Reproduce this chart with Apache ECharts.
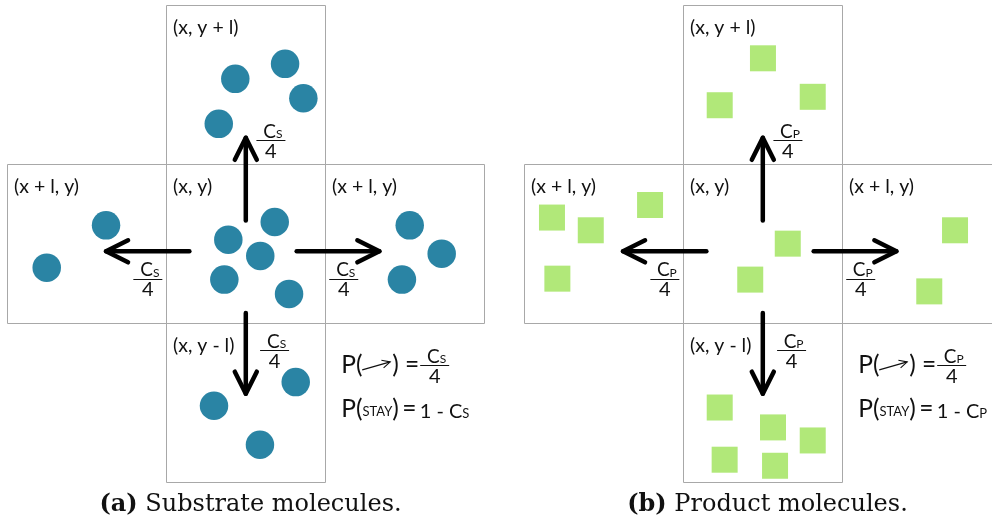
<!DOCTYPE html>
<html><head><meta charset="utf-8">
<script src="https://cdn.jsdelivr.net/npm/echarts@6/dist/echarts.min.js"></script>
<style>html,body{margin:0;padding:0;background:#fff}#main{width:992px;height:522px}</style>
</head><body><div id="main"></div>
<script>
// ---- data (lattice units: one cell = l, centre cell (x, y) at 0,0; +row = y + l) ----
const cellCols = [0, -1, 0, 1, 0];
const cellRows = [1, 0, 0, 0, -1];
const cellLabels = ['(x, y + l)', '(x + l, y)', '(x, y)', '(x + l, y)', '(x, y - l)'];

const substrateX = [-0.066, 0.247, 0.362, -0.170, -0.879, -1.252, -0.110, 0.182, 0.091, -0.135, 0.272, 1.031, 1.232, 0.982, -0.200, 0.314, 0.089];
const substrateY = [1.036, 1.130, 0.914, 0.753, 0.115, -0.151, 0.025, 0.136, -0.077, -0.226, -0.316, 0.115, -0.063, -0.226, -1.019, -0.870, -1.264];
const productX = [0.001, -0.271, 0.314, -1.326, -1.082, -0.709, -1.292, 0.157, -0.079, 1.209, 1.047, -0.271, 0.064, 0.314, -0.240, 0.077];
const productY = [1.165, 0.870, 0.923, 0.164, 0.084, 0.243, -0.220, 0.000, -0.226, 0.084, -0.300, -1.030, -1.155, -1.237, -1.358, -1.396];

const arrowTailX = [0, -0.355, 0.320, 0];
const arrowTailY = [0.145, -0.048, -0.048, -0.436];
const arrowTipX = [0, -0.879, 0.840, 0];
const arrowTipY = [0.665, -0.048, -0.048, -0.943];
const fracX = [0.158, -0.616, 0.616, 0.181];
const fracY = [0.650, -0.220, -0.220, -0.671];

const speciesLetter = ['S', 'P'];
const captionTags = ['(a)', '(b)'];
const captionTexts = ['Substrate molecules.', 'Product molecules.'];
const formulaX = [0.60, 0.60];
const formulaY = [-0.765, -1.065];

// visible lattice window of each panel (the right panel is cut by the page edge)
const panelXMin = [-1.5, -1.5];
const panelXMax = [1.5, 1.4415];

// ---- styles ----
const SANS = 'Lato';
const INK = '#111';
const TEAL = '#2a84a4';
const GREEN = '#b1e879';

const chart = echarts.init(document.getElementById('main'), null, {renderer: 'canvas'});

function cellRenderer(params, api) {
  const c = api.value(0), r = api.value(1);
  const p0 = api.coord([c - 0.5, r + 0.5]);
  const p1 = api.coord([c + 0.5, r - 0.5]);
  const x0 = Math.round(p0[0]) + 0.5, y0 = Math.round(p0[1]) + 0.5;
  const x1 = Math.round(p1[0]) + 0.5, y1 = Math.round(p1[1]) + 0.5;
  return {type: 'group', children: [
    {type: 'rect', shape: {x: x0, y: y0, width: x1 - x0, height: y1 - y0},
     style: {fill: 'none', stroke: '#a8a8a8', lineWidth: 1}},
    {type: 'text', x: x0 + 6.5, y: y0 + 22,
     style: {text: cellLabels[params.dataIndex], font: '19.5px ' + SANS, fill: INK, align: 'left', verticalAlign: 'middle'}}
  ]};
}

function arrowRenderer(params, api) {
  const t = api.coord([api.value(0), api.value(1)]);
  const h = api.coord([api.value(2), api.value(3)]);
  const dx = h[0] - t[0], dy = h[1] - t[1];
  const len = Math.hypot(dx, dy), ux = dx / len, uy = dy / len;
  const back = 22, side = 11;
  const w1 = [h[0] - ux * back - uy * side, h[1] - uy * back + ux * side];
  const w2 = [h[0] - ux * back + uy * side, h[1] - uy * back - ux * side];
  const st = {stroke: '#000', lineWidth: 4.5, lineCap: 'round', lineJoin: 'round', fill: 'none'};
  return {type: 'group', children: [
    {type: 'line', shape: {x1: t[0], y1: t[1], x2: h[0], y2: h[1]}, style: st},
    {type: 'polyline', shape: {points: [w1, h, w2]}, style: st}
  ]};
}

function fractionElems(cx, cy, letter) {
  return [
    {type: 'text', x: cx + 2, y: cy + 1,
     style: {text: '{c|C}{s|' + letter + '}', align: 'center', verticalAlign: 'bottom', fill: INK,
       rich: {c: {fontSize: 19, fontFamily: SANS, lineHeight: 19, verticalAlign: 'bottom', fill: INK},
              s: {fontSize: 12, fontFamily: SANS, lineHeight: 12, verticalAlign: 'bottom', fill: INK, padding: [0, 0, 1, 0]}}}},
    {type: 'line', shape: {x1: cx - 14.5, y1: Math.round(cy) + 0.5, x2: cx + 14.5, y2: Math.round(cy) + 0.5},
     style: {stroke: INK, lineWidth: 1}},
    {type: 'text', x: cx, y: cy + 1,
     style: {text: '4', font: '20px ' + SANS, fill: INK, align: 'center', verticalAlign: 'top'}}
  ];
}

function makeFractionRenderer(letter) {
  return function (params, api) {
    const p = api.coord([api.value(0), api.value(1)]);
    return {type: 'group', children: fractionElems(p[0], p[1], letter)};
  };
}

function makeFormulaRenderer(letter) {
  return function (params, api) {
    const p = api.coord([api.value(0), api.value(1)]);
    const x0 = p[0], yc = p[1];
    if (params.dataIndex === 0) {
      const t = [x0 + 21, yc + 4.5], h = [x0 + 49, yc - 3.5];
      const dx = h[0] - t[0], dy = h[1] - t[1];
      const len = Math.hypot(dx, dy), ux = dx / len, uy = dy / len;
      const w1 = [h[0] - ux * 8 - uy * 4, h[1] - uy * 8 + ux * 4];
      const w2 = [h[0] - ux * 8 + uy * 4, h[1] - uy * 8 - ux * 4];
      const st = {stroke: INK, lineWidth: 1.1, fill: 'none'};
      return {type: 'group', children: [
        {type: 'text', x: x0, y: yc, style: {text: 'P(', font: '24.5px ' + SANS, fill: INK, align: 'left', verticalAlign: 'middle'}},
        {type: 'line', shape: {x1: t[0], y1: t[1], x2: h[0], y2: h[1]}, style: st},
        {type: 'polyline', shape: {points: [w1, h, w2]}, style: st},
        {type: 'text', x: x0 + 51, y: yc, style: {text: ') =', font: '24.5px ' + SANS, fill: INK, align: 'left', verticalAlign: 'middle'}}
      ].concat(fractionElems(x0 + 93.5, yc, letter))};
    }
    return {type: 'group', children: [
      {type: 'text', x: x0, y: yc + 9,
       style: {text: '{p|P(}{k|STAY}{p|)} {p|=} {n|1 - C}{s|' + letter + '}', align: 'left', verticalAlign: 'bottom', fill: INK,
         rich: {p: {fontSize: 24.5, fontFamily: SANS, lineHeight: 24, verticalAlign: 'bottom', fill: INK},
                k: {fontSize: 13, fontFamily: SANS, lineHeight: 13, verticalAlign: 'bottom', fill: INK, padding: [0, 0, 4, 0]},
                n: {fontSize: 20, fontFamily: SANS, lineHeight: 20, verticalAlign: 'bottom', fill: INK, padding: [0, 0, 1, 0]},
                s: {fontSize: 13, fontFamily: SANS, lineHeight: 13, verticalAlign: 'bottom', fill: INK, padding: [0, 0, 2, 0]}}}}
    ]};
  };
}

function makeCaptionRenderer(k) {
  return function (params, api) {
    const p = api.coord([api.value(0), api.value(1)]);
    const q = api.coord([0, 0]);
    return {type: 'text', x: q[0] + 4.7, y: p[1] + 22,
      style: {text: '{b|' + captionTags[k] + '} ' + captionTexts[k], align: 'center', verticalAlign: 'middle', fill: INK,
        font: '24px "DejaVu Serif"',
        rich: {b: {fontSize: 24, fontFamily: 'DejaVu Serif', fontWeight: 'bold', fill: INK}}}};
  };
}

const grids = [
  {left: 7.3, top: 5, width: 477, height: 477.3},
  {left: 524.3, top: 5, width: 467.7, height: 477.3}
];
const xAxes = [0, 1].map(k => ({type: 'value', gridIndex: k, min: panelXMin[k], max: panelXMax[k], show: false}));
const yAxes = [0, 1].map(k => ({type: 'value', gridIndex: k, min: -1.5, max: 1.5, show: false}));

const series = [];
[0, 1].forEach(k => {
  const mx = k === 0 ? substrateX : productX;
  const my = k === 0 ? substrateY : productY;
  series.push({type: 'custom', xAxisIndex: k, yAxisIndex: k, silent: true, z: 1, clip: false,
    data: cellCols.map((c, i) => [c, cellRows[i]]), renderItem: cellRenderer});
  series.push({type: 'scatter', xAxisIndex: k, yAxisIndex: k, silent: true, z: 2,
    data: mx.map((x, i) => [x, my[i]]),
    symbol: k === 0 ? 'circle' : 'rect', symbolSize: k === 0 ? 28.5 : 26,
    itemStyle: {color: k === 0 ? TEAL : GREEN, opacity: 1}});
  series.push({type: 'custom', xAxisIndex: k, yAxisIndex: k, silent: true, z: 3,
    data: arrowTailX.map((x, i) => [x, arrowTailY[i], arrowTipX[i], arrowTipY[i]]), renderItem: arrowRenderer});
  series.push({type: 'custom', xAxisIndex: k, yAxisIndex: k, silent: true, z: 3,
    data: fracX.map((x, i) => [x, fracY[i]]), renderItem: makeFractionRenderer(speciesLetter[k])});
  series.push({type: 'custom', xAxisIndex: k, yAxisIndex: k, silent: true, z: 3,
    data: formulaY.map((y, i) => [formulaX[i], y]), renderItem: makeFormulaRenderer(speciesLetter[k])});
  series.push({type: 'custom', xAxisIndex: k, yAxisIndex: k, silent: true, z: 3,
    data: [[0, -1.5]], renderItem: makeCaptionRenderer(k)});
});

chart.setOption({
  animation: false,
  backgroundColor: '#fff',
  grid: grids,
  xAxis: xAxes,
  yAxis: yAxes,
  series: series
});
</script></body></html>
